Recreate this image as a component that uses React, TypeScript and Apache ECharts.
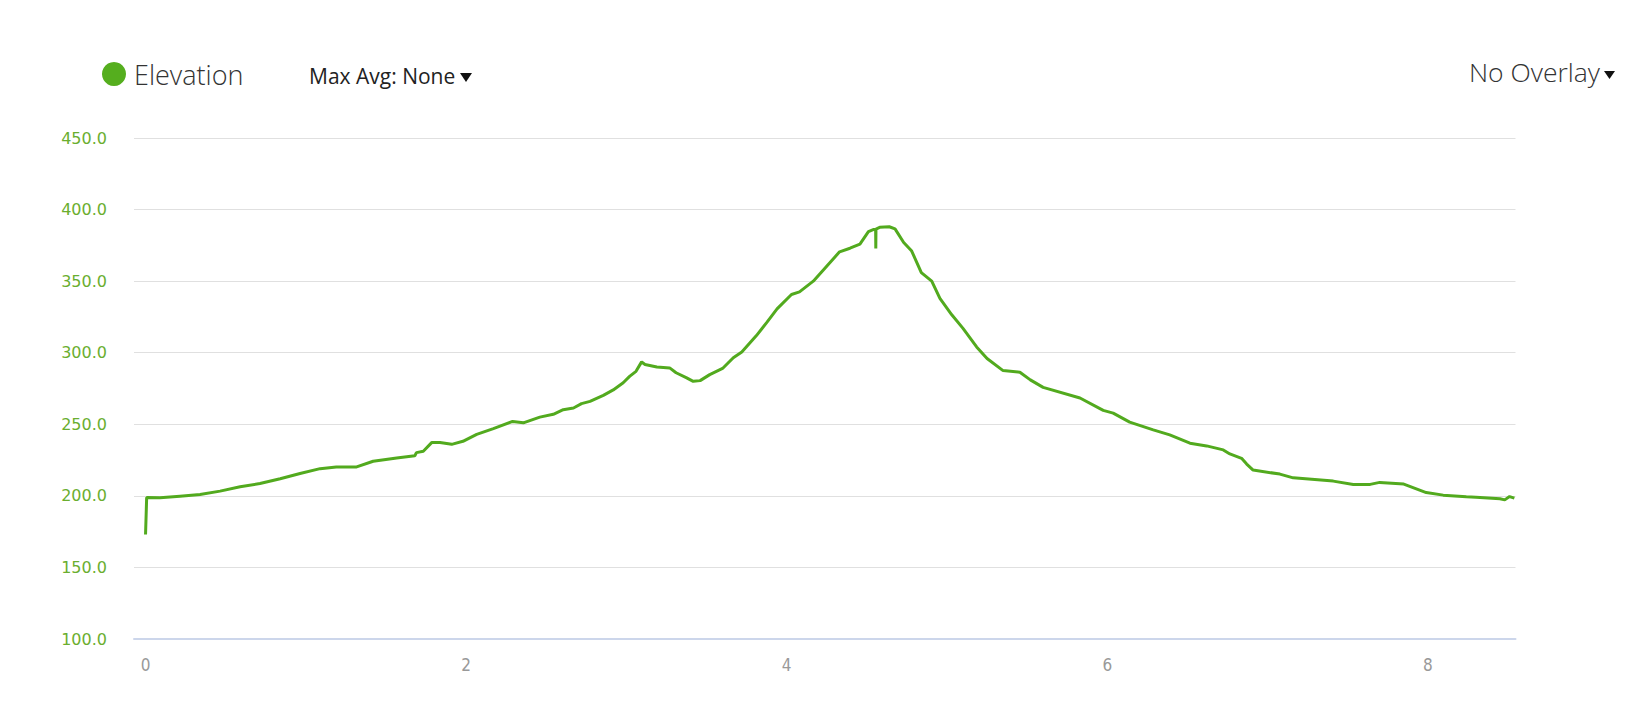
import React, { useEffect, useRef } from "react";
import * as echarts from "echarts";

const distanceKm = [
  0.0, 0.007, 0.09, 0.215, 0.34, 0.465, 0.59, 0.714, 0.84, 0.964, 1.089, 1.19, 1.317, 1.42, 1.567, 1.68, 1.69,
  1.733, 1.785, 1.837, 1.91, 1.98, 2.066, 2.17, 2.29, 2.357, 2.46, 2.544, 2.606, 2.67, 2.72, 2.773, 2.856, 2.918,
  2.98, 3.02, 3.06, 3.095, 3.116, 3.19, 3.27, 3.31, 3.376, 3.417, 3.46, 3.52, 3.6, 3.667, 3.72, 3.81, 3.875, 3.94,
  4.03, 4.08, 4.166, 4.29, 4.33, 4.395, 4.457, 4.51, 4.54, 4.555, 4.556, 4.557, 4.58, 4.64, 4.676, 4.73, 4.78,
  4.84, 4.905, 4.956, 5.03, 5.1, 5.185, 5.25, 5.35, 5.455, 5.52, 5.6, 5.83, 5.975, 6.037, 6.14, 6.287, 6.39,
  6.516, 6.62, 6.724, 6.765, 6.838, 6.87, 6.91, 7.077, 7.16, 7.41, 7.535, 7.64, 7.7, 7.85, 7.99, 8.096, 8.24,
  8.3, 8.45, 8.48, 8.51, 8.54,
];

const elevationM = [
  173, 198.8, 198.6, 199.8, 201, 203.3, 206.3, 208.6, 212, 215.6, 219, 220.2, 220.2, 224.2, 226.5, 228, 230.2,
  231.2, 237.2, 237.2, 236, 238.1, 243, 247, 252, 251, 255, 257, 260.2, 261.4, 264.4, 266, 270.2, 274,
  279, 283.5, 287, 293.6, 291.8, 290, 289.4, 286, 282.4, 280, 280.5, 284.7, 289, 296.5, 300.5, 311.8, 321, 330.6,
  340.7, 342.5, 350, 365.5, 370.5, 373, 375.9, 384.6, 386, 386.2, 372.8, 386.4, 387.6, 388, 386.5, 377, 371,
  356, 350, 338, 326.5, 317, 304, 296, 287.5, 286.4, 281, 275.8, 268.4, 259.7, 257.8, 251.5, 246.1, 242.6,
  236.8, 234.9, 232.1, 229.3, 226.2, 222.2, 218, 215.2, 212.6, 210.3, 208, 208, 209.4, 208.2, 202.3, 200.5, 199.3,
  199, 198, 197.2, 199.5, 198.4,
];

const xTickValues = [0, 2, 4, 6, 8];
const yMin = 100;
const yMax = 450;
const yStep = 50;

const seriesName = "Elevation";
const maxAvgLabel = "Max Avg: None";
const overlayLabel = "No Overlay";

export default function App() {
  const ref = useRef<HTMLDivElement>(null);

  useEffect(() => {
    if (!ref.current) return;
    const chart = echarts.init(ref.current, null, { renderer: "svg" });
    const points = distanceKm.map((d, i) => [d, elevationM[i]]);
    chart.setOption({
      animation: false,
      backgroundColor: "#ffffff",
      grid: {
        left: 134,
        right: 125.5,
        top: 138,
        bottom: 62,
        containLabel: false,
        outerBoundsMode: "none",
      },
      xAxis: {
        type: "value",
        min: -0.072,
        max: 8.547,
        axisLine: { show: true, lineStyle: { color: "#ccd6eb", width: 2 } },
        axisTick: { show: false },
        splitLine: { show: false },
        axisLabel: {
          customValues: xTickValues,
          formatter: (v: number) => String(v),
          color: "#999999",
          fontSize: 17,
          margin: 17,
          fontFamily: "'Liberation Sans Narrow', 'DejaVu Sans Condensed', sans-serif",
        },
      },
      yAxis: {
        type: "value",
        min: yMin,
        max: yMax,
        interval: yStep,
        axisLine: { show: false },
        axisTick: { show: false },
        splitLine: { show: true, lineStyle: { color: "#e0e0e0", width: 1 } },
        axisLabel: {
          formatter: (v: number) => v.toFixed(1),
          color: "#6aae2f",
          fontSize: 16,
          margin: 27,
          fontFamily: "'DejaVu Sans', sans-serif",
        },
      },
      series: [
        {
          name: seriesName,
          type: "line",
          data: points,
          showSymbol: false,
          symbol: "none",
          lineStyle: { color: "#52aa1e", width: 3 },
          itemStyle: { color: "#52aa1e" },
        },
      ],
      graphic: [
        {
          type: "circle",
          shape: { cx: 114, cy: 74, r: 12 },
          style: { fill: "#55ae1e" },
        },
        {
          type: "text",
          x: 134,
          y: 74,
          style: {
            text: seriesName,
            fontSize: 27,
            fontWeight: 300,
            fontFamily: "'Open Sans', sans-serif",
            fill: "#333333",
            verticalAlign: "middle",
            align: "left",
          },
        },
        {
          type: "text",
          x: 309,
          y: 76,
          style: {
            text: maxAvgLabel,
            fontSize: 21,
            fontFamily: "'Open Sans', sans-serif",
            fill: "#222222",
            verticalAlign: "middle",
            align: "left",
          },
        },
        {
          type: "polygon",
          shape: { points: [[460, 73], [472, 73], [466, 82]] },
          style: { fill: "#111111" },
        },
        {
          type: "text",
          x: 1600,
          y: 72,
          style: {
            text: overlayLabel,
            fontSize: 26.5,
            fontWeight: 300,
            fontFamily: "'Open Sans', sans-serif",
            fill: "#333333",
            verticalAlign: "middle",
            align: "right",
          },
        },
        {
          type: "polygon",
          shape: { points: [[1604, 71], [1615, 71], [1609.5, 79]] },
          style: { fill: "#111111" },
        },
      ],
    });
    return () => chart.dispose();
  }, []);

  return (
    <div
      ref={ref}
      style={{ position: "fixed", left: 0, top: 0, width: 1641, height: 701, background: "#fff" }}
    />
  );
}
